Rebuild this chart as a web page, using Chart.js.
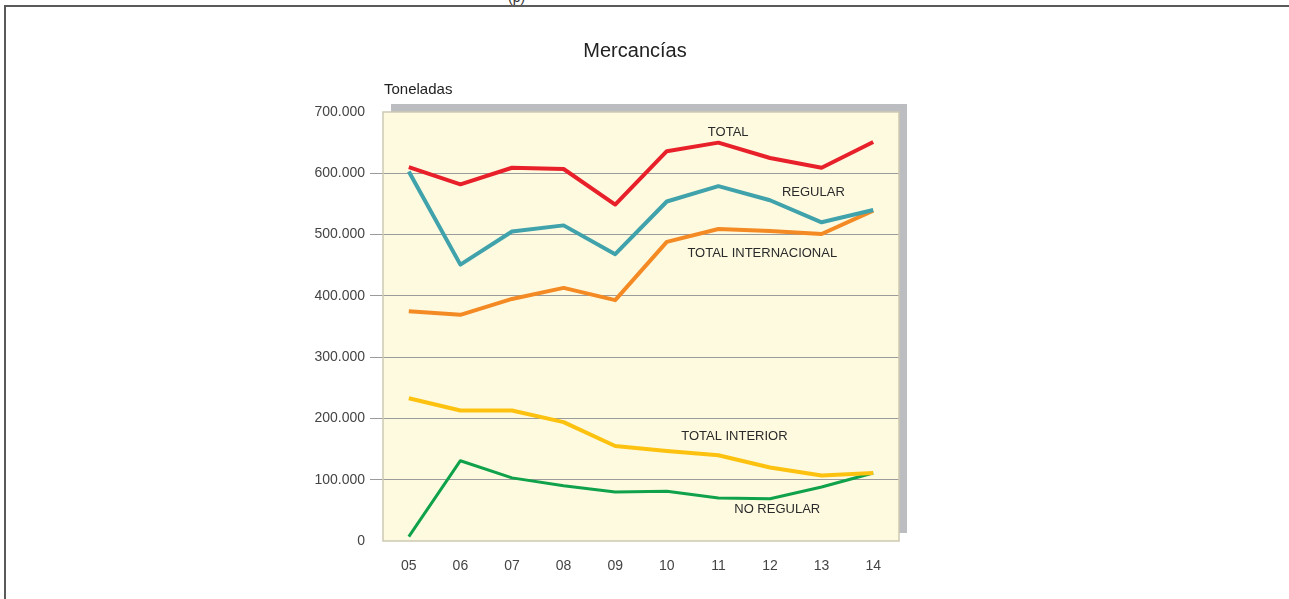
<!DOCTYPE html>
<html lang="es">
<head>
<meta charset="UTF-8">
<script src="https://cdn.jsdelivr.net/npm/chart.js"></script>
<title>Mercancías</title>
<style>
  html, body { margin: 0; padding: 0; background: #fff; overflow: hidden; }
  #marco { position: absolute; left: 4px; top: 5px; width: 1300px; height: 700px;
           border-left: 2px solid #5a5a5a; border-top: 2px solid #5a5a5a; }
  #p { position: absolute; left: 508px; top: -11px; font: 14px "Liberation Sans", Arial, sans-serif; color: #333; }
  #wrap { position: absolute; left: 0; top: 0; width: 1289px; height: 599px; }
</style>
</head>
<body>
<div id="marco"></div>
<div id="p">(p)</div>
<div id="wrap"><canvas id="grafico"></canvas></div>
<script>
// años (eje X)
const anios = ["05","06","07","08","09","10","11","12","13","14"];

// series en toneladas
const total        = [610000, 582000, 609000, 607000, 549000, 636000, 650000, 625000, 609000, 651000];
const regular      = [603000, 451000, 505000, 515000, 468000, 554000, 579000, 556000, 520000, 540000];
const totalInter   = [375000, 369000, 395000, 413000, 393000, 488000, 509000, 506000, 501000, 539000];
const totalInterior= [233000, 213000, 213000, 194000, 155000, 147000, 140000, 120000, 107000, 111000];
const noRegular    = [7000, 131000, 103000, 90000, 80000, 81000, 70000, 69000, 88000, 111000];

// eje Y
const yMin = 0, yMax = 700000, yPaso = 100000;

// rótulos dentro del gráfico (posición en unidades de datos: índice de año, toneladas)
const rotulos = [
  { texto: "TOTAL",               x: 6.19, y: 667000 },
  { texto: "REGULAR",             x: 7.84, y: 568000 },
  { texto: "TOTAL INTERNACIONAL", x: 6.85, y: 470000 },
  { texto: "TOTAL INTERIOR",      x: 6.31, y: 170000 },
  { texto: "NO REGULAR",          x: 7.14, y: 52000 }
];

const fuente = '"Liberation Sans", Arial, sans-serif';

// fondo, sombra, títulos y rótulos
const decorado = {
  id: 'decorado',
  beforeDraw(chart) {
    const c = chart.ctx, a = chart.chartArea;
    c.save();
    c.fillStyle = '#bcbdc1';
    c.fillRect(a.left + 8, a.top - 8, a.right - a.left, a.bottom - a.top);
    c.fillStyle = '#fefae0';
    c.fillRect(a.left, a.top, a.right - a.left, a.bottom - a.top);
    c.fillStyle = '#222';
    c.font = '20px ' + fuente;
    c.textAlign = 'center';
    c.textBaseline = 'middle';
    c.fillText('Mercancías', 635, 51);
    c.font = '15px ' + fuente;
    c.textAlign = 'left';
    c.fillText('Toneladas', a.left + 1, 90);
    c.restore();
  },
  afterDatasetsDraw(chart) {
    const c = chart.ctx, a = chart.chartArea;
    const sx = chart.scales.x, sy = chart.scales.y;
    c.save();
    c.strokeStyle = '#cdc9b2';
    c.lineWidth = 1.5;
    c.strokeRect(a.left, a.top, a.right - a.left, a.bottom - a.top);
    c.fillStyle = '#2a2a2a';
    c.font = '13px ' + fuente;
    c.textAlign = 'center';
    c.textBaseline = 'middle';
    rotulos.forEach(r => c.fillText(r.texto, sx.getPixelForValue(r.x), sy.getPixelForValue(r.y)));
    c.restore();
  }
};

const serie = (datos, color, grosor) => ({
  data: datos, borderColor: color, borderWidth: grosor,
  pointRadius: 0, tension: 0, fill: false, borderJoinStyle: 'round'
});

new Chart(document.getElementById('grafico'), {
  type: 'line',
  data: {
    labels: anios,
    datasets: [
      serie(total, '#e8202a', 4),
      serie(regular, '#40a2ab', 4),
      serie(totalInter, '#f48a24', 4),
      serie(totalInterior, '#fcc20f', 4),
      serie(noRegular, '#0fa24b', 3)
    ]
  },
  options: {
    responsive: true,
    maintainAspectRatio: false,
    animation: false,
    layout: { padding: { left: 0, top: 112, right: 390, bottom: 0 } },
    plugins: { legend: { display: false }, tooltip: { enabled: false }, title: { display: false } },
    scales: {
      x: {
        offset: true,
        grid: { display: false, drawTicks: false },
        border: { display: false },
        ticks: { color: '#444', font: { family: fuente, size: 14 }, padding: 17, maxRotation: 0 },
        afterFit(s) { s.height = 58; }
      },
      y: {
        min: yMin, max: yMax,
        border: { display: false },
        grid: {
          color: ctx => (ctx.tick && (ctx.tick.value === yMin || ctx.tick.value === yMax)) ? 'rgba(0,0,0,0)' : '#9b9b9b',
          tickColor: ctx => (ctx.tick && (ctx.tick.value === yMin || ctx.tick.value === yMax)) ? 'rgba(0,0,0,0)' : '#9b9b9b',
          tickLength: 13,
          lineWidth: 1
        },
        ticks: {
          stepSize: yPaso,
          color: '#444',
          padding: 5,
          font: { family: fuente, size: 14 },
          callback: v => v === 0 ? '0' : v.toLocaleString('de-DE')
        },
        afterFit(s) { s.width = 383; }
      }
    }
  },
  plugins: [decorado]
});
</script>
</body>
</html>
